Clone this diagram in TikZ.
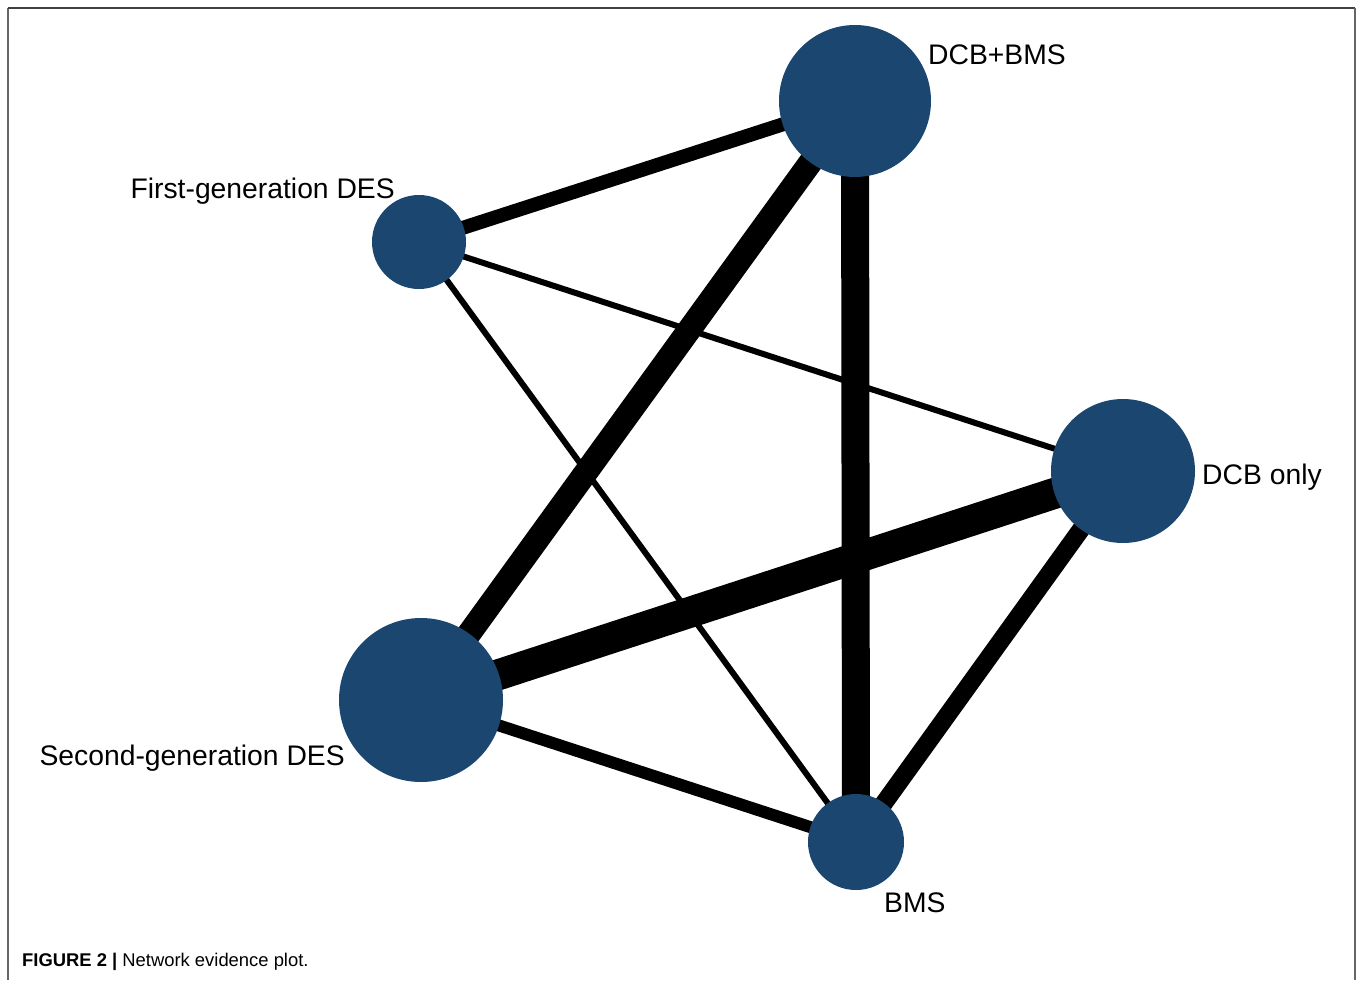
\documentclass[tikz,border=0pt]{standalone}
\usepackage{fontspec}
\setmainfont{Liberation Sans}
\usepackage{xcolor}
\usetikzlibrary{positioning, backgrounds}

\definecolor{netblue}{RGB}{26,70,111}

\begin{document}
\begin{tikzpicture}[
  x=1pt, y=-1pt,
  trt/.style={circle, fill=netblue, draw=none, minimum size=#1, inner sep=0pt},
  edge/.style={line width=#1, black},
  lbl/.style={font=\fontsize{28.3}{34}\selectfont, inner sep=0pt},
]
\useasboundingbox (0,0) rectangle (1357,980);
% frame, open at the bottom
\draw[line width=2pt, gray!80!black] (8,980) -- (8,8);
\draw[line width=2pt, black!75] (8,8) -- (1355,8);
\draw[line width=2pt, gray!80!black] (1355,8) -- (1355,980);

% treatments
\node[trt=152pt] (dcbbms) at (855,101) {};
\node[trt=94pt]  (des1)   at (419,242) {};
\node[trt=144pt] (dcb)    at (1123,471) {};
\node[trt=164pt] (des2)   at (421,700) {};
\node[trt=96pt]  (bms)    at (856,842) {};

% comparisons
\begin{scope}[on background layer]
\draw[edge=14pt] (des1.center) -- (dcbbms.center);
\draw[edge=6pt]  (des1.center) -- (dcb.center);
\draw[edge=6pt]  (des1.center) -- (bms.center);
\draw[edge=24pt] (dcbbms.center) -- (des2.center);
\draw[edge=28pt] (dcbbms.center) -- (bms.center);
\draw[edge=31pt] (des2.center) -- (dcb.center);
\draw[edge=12pt] (des2.center) -- (bms.center);
\draw[edge=18pt] (dcb.center) -- (bms.center);
\end{scope}

% labels
\node[lbl, anchor=west] (ldcbbms) at (928,55)  {DCB+BMS};
\node[lbl, anchor=east] (ldes1)   at (395,191) {First-generation DES};
\node[lbl, anchor=west] (ldcb)    at (1202,477) {DCB only};
\node[lbl, anchor=east] (ldes2)   at (345,758) {Second-generation DES};
\node[lbl, anchor=west] (lbms)    at (884,903) {BMS};

\node[anchor=west, inner sep=0pt, font=\fontsize{18.4}{22}\selectfont] (cap) at (22,962)
  {\textbf{FIGURE 2 |} Network evidence plot.};
\end{tikzpicture}
\end{document}
